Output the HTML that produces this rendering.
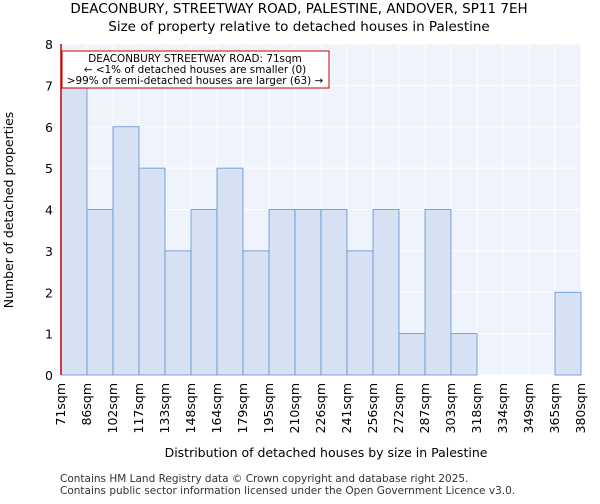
<!DOCTYPE html>
<html><head><meta charset="utf-8"><style>
body{margin:0;background:#fff;font-family:"DejaVu Sans","Liberation Sans",sans-serif;}
svg text{font-family:"DejaVu Sans","Liberation Sans",sans-serif;}
</style></head><body>
<svg id="c" width="600" height="500">
<text x="299" y="13" font-size="13.5" text-anchor="middle">DEACONBURY, STREETWAY ROAD, PALESTINE, ANDOVER, SP11 7EH</text>
<text x="299" y="31" font-size="13.5" text-anchor="middle">Size of property relative to detached houses in Palestine</text>
<rect x="61" y="44" width="520" height="331" fill="#eff3fb"/>
<g id="grid"></g><g id="bars"></g><g id="axes"></g>
<line x1="61" y1="44" x2="61" y2="375" stroke="#cc0000" stroke-width="1.5"/>
<rect x="62" y="51" width="267" height="37" fill="#fff" stroke="#cc0000" stroke-width="1"/>
<text x="195" y="62" font-size="10.4" text-anchor="middle">DEACONBURY STREETWAY ROAD: 71sqm</text>
<text x="195" y="73" font-size="10.4" text-anchor="middle">← &lt;1% of detached houses are smaller (0)</text>
<text x="195" y="84" font-size="10.4" text-anchor="middle">&gt;99% of semi-detached houses are larger (63) →</text>
<text x="326" y="457" font-size="12.5" text-anchor="middle">Distribution of detached houses by size in Palestine</text>
<text transform="translate(13,210) rotate(-90)" font-size="12.5" text-anchor="middle">Number of detached properties</text>
<text x="60" y="482" font-size="10.5" fill="#333">Contains HM Land Registry data © Crown copyright and database right 2025.</text>
<text x="60" y="494" font-size="10.5" fill="#333">Contains public sector information licensed under the Open Government Licence v3.0.</text>
</svg>
<script>
const categories=["71sqm","86sqm","102sqm","117sqm","133sqm","148sqm","164sqm","179sqm","195sqm","210sqm","226sqm","241sqm","256sqm","272sqm","287sqm","303sqm","318sqm","334sqm","349sqm","365sqm","380sqm"];
const counts=[7,4,6,5,3,4,5,3,4,4,4,3,4,1,4,1,0,0,0,2];
const yTicks=[0,1,2,3,4,5,6,7,8];
const NS="http://www.w3.org/2000/svg";
const L=61,R=581,T=44,B=375,yMax=8;
const bw=(R-L)/counts.length;
const xs=i=>L+i*bw, ys=v=>B-(v/yMax)*(B-T);
function mk(t,a,p){const e=document.createElementNS(NS,t);for(const k in a)e.setAttribute(k,a[k]);p.appendChild(e);return e;}
const g=document.getElementById('grid'),b=document.getElementById('bars'),ax=document.getElementById('axes');
yTicks.forEach(v=>{
 const l=mk('line',{x1:L,x2:R,y1:ys(v),y2:ys(v),stroke:'#fff','stroke-width':1},g);
 
 
 const t=mk('text',{x:L-8,y:ys(v)+5,'font-size':12.5,'text-anchor':'end'},ax);t.textContent=v;
 
 
});
categories.forEach((c,i)=>{
 const x=xs(i);
 const l=mk('line',{x1:x,x2:x,y1:T,y2:B,stroke:'#fff','stroke-width':1},g);
 
 
 const t=mk('text',{transform:`translate(${x+4},${B+8}) rotate(-90)`,'font-size':12.5,'text-anchor':'end'},ax);t.textContent=c;
 
 
});
counts.forEach((v,i)=>{
 if(v<=0)return;
 const r=mk('rect',{x:xs(i),y:ys(v),width:bw,height:B-ys(v),fill:'#d6e1f4',stroke:'#5f8fd0','stroke-width':0.8},b);
 
 
});
</script>
</body></html>
